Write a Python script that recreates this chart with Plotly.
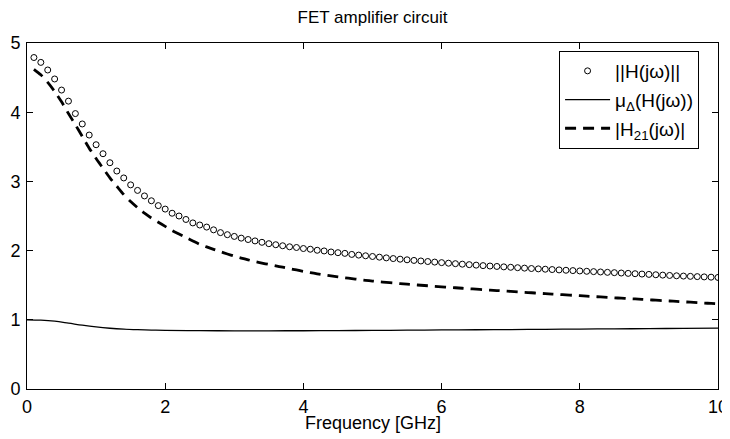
import plotly.graph_objects as go

# Frequency grid for sampled curves [GHz]
freq = [round(0.1 * i, 1) for i in range(1, 101)]

# ||H(jw)|| (circles)
h_norm = [
    4.79, 4.72, 4.61, 4.48, 4.32, 4.16, 3.98, 3.83, 3.67, 3.53,
    3.40, 3.27, 3.15, 3.05, 2.95, 2.87, 2.79, 2.72, 2.65, 2.60,
    2.54, 2.50, 2.45, 2.40, 2.37, 2.34, 2.30, 2.26, 2.23, 2.205,
    2.18, 2.16, 2.14, 2.12, 2.10, 2.085, 2.07, 2.055, 2.045, 2.03,
    2.02, 2.005, 1.995, 1.98, 1.97, 1.96, 1.945, 1.935, 1.925, 1.915,
    1.905, 1.895, 1.885, 1.876, 1.867, 1.858, 1.850, 1.842, 1.834, 1.826,
    1.818, 1.811, 1.804, 1.797, 1.790, 1.783, 1.777, 1.771, 1.765, 1.759,
    1.753, 1.747, 1.741, 1.736, 1.731, 1.726, 1.721, 1.716, 1.711, 1.706,
    1.701, 1.696, 1.691, 1.686, 1.681, 1.676, 1.671, 1.666, 1.661, 1.656,
    1.651, 1.646, 1.641, 1.636, 1.632, 1.628, 1.624, 1.620, 1.616, 1.612,
]

# |H21(jw)| (dashed)
h21 = [
    4.62, 4.54, 4.43, 4.30, 4.15, 3.98, 3.82, 3.65, 3.48, 3.33,
    3.19, 3.05, 2.93, 2.81, 2.71, 2.62, 2.54, 2.47, 2.41, 2.35,
    2.29, 2.24, 2.19, 2.14, 2.09, 2.053, 2.018, 1.984, 1.951, 1.92,
    1.892, 1.866, 1.842, 1.82, 1.80, 1.78, 1.76, 1.74, 1.72, 1.70,
    1.682, 1.665, 1.649, 1.634, 1.62, 1.607, 1.595, 1.583, 1.571, 1.56,
    1.55, 1.541, 1.532, 1.523, 1.515, 1.507, 1.499, 1.492, 1.484, 1.477,
    1.47, 1.463, 1.456, 1.449, 1.442, 1.436, 1.429, 1.423, 1.416, 1.41,
    1.404, 1.397, 1.391, 1.384, 1.378, 1.372, 1.366, 1.36, 1.354, 1.348,
    1.342, 1.336, 1.33, 1.324, 1.318, 1.312, 1.306, 1.301, 1.295, 1.289,
    1.283, 1.277, 1.272, 1.266, 1.26, 1.254, 1.248, 1.242, 1.236, 1.23,
]

# mu_Delta(H(jw)) (solid)
freq_mu = [0, 0.2, 0.4, 0.6, 0.8, 1.0, 1.2, 1.4, 1.6, 1.8, 2.0, 2.5, 3.0, 3.5,
           4.0, 4.5, 5.0, 5.5, 6.0, 6.5, 7.0, 7.5, 8.0, 8.5, 9.0, 9.5, 10.0]
mu = [1.0, 0.995, 0.98, 0.952, 0.922, 0.897, 0.878, 0.865, 0.857, 0.851, 0.847,
      0.843, 0.841, 0.841, 0.842, 0.844, 0.847, 0.85, 0.853, 0.856, 0.859,
      0.862, 0.866, 0.869, 0.872, 0.876, 0.879]

x_ticks = [0, 2, 4, 6, 8, 10]
y_ticks = [0, 1, 2, 3, 4, 5]

FONT = "Liberation Sans, Arial, Helvetica, sans-serif"
# the page body adds an 8 px margin, so the figure is 8 px smaller each way
W, H = 722, 431
L, T, R, B = 19, 35, 12, 50
PH = H - T - B  # plot height in px

fig = go.Figure()
fig.add_trace(go.Scatter(
    x=freq, y=h_norm, mode="markers", name="||H(jω)||",
    marker=dict(symbol="circle-open", size=6, color="black", line=dict(width=1, color="black")),
    legendgroup="a",
))
fig.add_trace(go.Scatter(
    x=freq_mu, y=mu, mode="lines", name="μ<sub>Δ</sub>(H(jω))",
    line=dict(color="black", width=1.3, shape="spline"),
    legendgroup="b",
))
fig.add_trace(go.Scatter(
    x=freq, y=h21, mode="lines", name="|H<sub>21</sub>(jω)|",
    line=dict(color="black", width=2.8, dash="11px,7px", shape="spline", smoothing=0.6),
    legendgroup="c",
))

axis_common = dict(
    showline=True, linecolor="black", linewidth=1, mirror="ticks",
    ticks="inside", ticklen=6, tickcolor="black", tickwidth=1,
    showgrid=False, zeroline=False, automargin=False,
    tickfont=dict(family=FONT, size=18, color="black"),
)

fig.update_layout(
    width=W, height=H,
    margin=dict(l=L, r=R, t=T, b=B),
    paper_bgcolor="white", plot_bgcolor="white",
    font=dict(family=FONT, color="black"),
    title=dict(text="FET amplifier circuit", x=0.5, xanchor="center",
               xref="paper",
               y=1 - 9 / H, yref="container", yanchor="middle",
               font=dict(family=FONT, size=17, color="black")),
    xaxis=dict(range=[0, 10], tickvals=x_ticks, ticklabelstandoff=1,
               **axis_common),
    yaxis=dict(range=[0, 5], tickvals=y_ticks, ticklabelstandoff=2,
               **axis_common),
    legend=dict(x=0.77, y=(PH - (43 - T)) / PH, xanchor="left", yanchor="top",
                bgcolor="white", bordercolor="black", borderwidth=1,
                font=dict(family=FONT, size=19, color="black"),
                tracegroupgap=1, itemwidth=45),
    showlegend=True,
    annotations=[dict(text="Frequency [GHz]", xref="paper", yref="paper",
                      x=0.5, y=0, yshift=-34, xanchor="center", yanchor="middle",
                      showarrow=False,
                      font=dict(family=FONT, size=18, color="black"))],
)

fig.write_html("out.html")
